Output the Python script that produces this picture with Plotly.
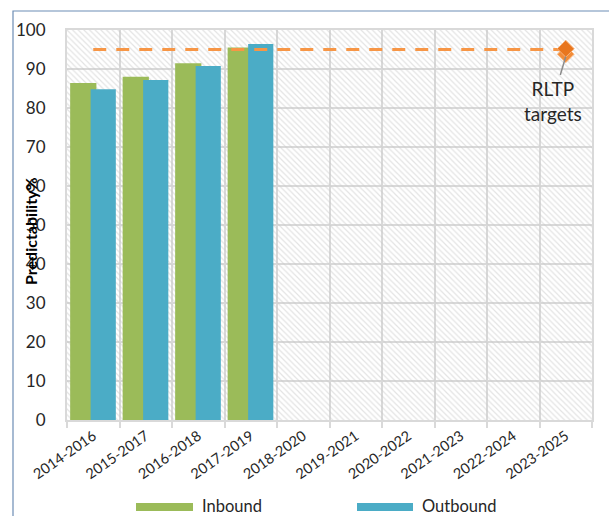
import plotly.graph_objects as go

# Rolling three-year periods
periods = ["2014-2016", "2015-2017", "2016-2018", "2017-2019", "2018-2020",
           "2019-2021", "2020-2022", "2021-2023", "2022-2024", "2023-2025"]

# Predictability (%) by direction; later periods not yet reported
inbound = [86.4, 88.0, 91.5, 95.5]
outbound = [84.8, 87.2, 90.8, 96.4]

# RLTP target level and target markers for the final period
target_level = 95
target_markers = [95.2, 93.8]

GREEN = "#9BBB59"
BLUE = "#4BACC6"
ORANGE = "#F79646"
GRID = "#D9D9D9"
FONT = "Lato"

W, H = 609, 516
L, R, T, B = 67, 17, 30, 96
PW, PH = W - L - R, H - T - B


def px_x(px):
    return (px - L) / PW


def px_y(py):
    return (H - B - py) / PH


fig = go.Figure()

# Hatched plot background spanning every period
fig.add_trace(go.Bar(
    x=[periods[0]], y=[100], base=0, offset=-0.5, width=len(periods),
    marker=dict(color="rgba(0,0,0,0)", line=dict(width=0),
                pattern=dict(shape="\\", fgcolor="#C8C8C8", bgcolor="rgba(0,0,0,0)",
                             size=4, solidity=0.3)),
    hoverinfo="skip", showlegend=False,
))

fig.add_trace(go.Bar(
    x=periods[:len(inbound)], y=inbound, name="Inbound",
    offset=-0.44, width=0.5, marker=dict(color=GREEN, line=dict(width=0)),
    showlegend=False,
))
fig.add_trace(go.Bar(
    x=periods[:len(outbound)], y=outbound, name="Outbound",
    offset=-0.05, width=0.48, marker=dict(color=BLUE, line=dict(width=0)),
    showlegend=False,
))

# Dashed target line
fig.add_trace(go.Scatter(
    x=[periods[0], periods[-1]], y=[target_level, target_level], mode="lines",
    line=dict(color=ORANGE, width=3, dash="13px,10px"),
    hoverinfo="skip", showlegend=False,
))

# Target markers
fig.add_trace(go.Scatter(
    x=[periods[-1]], y=[target_markers[1]], mode="markers",
    marker=dict(symbol="diamond", size=13, color="#F28C38",
                line=dict(color="#FBC08F", width=1)),
    showlegend=False,
))
fig.add_trace(go.Scatter(
    x=[periods[-1]], y=[target_markers[0]], mode="markers",
    marker=dict(symbol="diamond", size=13, color="#E8761E",
                line=dict(color="#F9B27A", width=1)),
    showlegend=False,
))

fig.add_annotation(
    x=periods[-1], y=target_markers[1] - 0.6, xref="x", yref="y",
    text="RLTP<br>targets", showarrow=True, arrowhead=0, arrowwidth=1.5,
    arrowcolor="#8C8C8C", ax=-13, ay=44, standoff=0,
    font=dict(family=FONT, size=19, color="#262626"), align="center",
)

# Y-axis title
fig.add_annotation(
    x=px_x(31), y=px_y(231), xref="paper", yref="paper",
    text="<b>Predictability%</b>", textangle=-90, showarrow=False,
    xanchor="center", yanchor="middle",
    font=dict(family=FONT, size=16, color="#000000"),
)

# Legend drawn beneath the chart
legend_items = [("Inbound", GREEN, 136, 193, 200), ("Outbound", BLUE, 357, 413, 420)]
for label, colour, x0, x1, tx in legend_items:
    fig.add_shape(type="rect", xref="paper", yref="paper",
                  x0=px_x(x0), x1=px_x(x1), y0=px_y(511), y1=px_y(503),
                  fillcolor=colour, line=dict(width=0))
    fig.add_annotation(x=px_x(tx), y=px_y(505.5), xref="paper", yref="paper",
                       text=label, showarrow=False, xanchor="left", yanchor="middle",
                       font=dict(family=FONT, size=16.5, color="#262626"))

# Thin outer frame (left and top edges)
fig.add_shape(type="path", xref="paper", yref="paper",
              path=f"M {px_x(13)} {px_y(520)} L {px_x(13)} {px_y(11)} L {px_x(612)} {px_y(11)}",
              line=dict(color="#6D8DB5", width=1.2))

fig.update_layout(
    width=W, height=H,
    margin=dict(l=L, r=R, t=T, b=B),
    paper_bgcolor="white", plot_bgcolor="white",
    barmode="overlay",
    font=dict(family=FONT, color="#262626"),
    showlegend=False,
)
fig.update_xaxes(
    type="category", categoryorder="array", categoryarray=periods,
    range=[-0.5, len(periods) - 0.5],
    tickson="boundaries", ticks="outside", ticklen=6, tickcolor=GRID, tickwidth=2,
    showgrid=True, gridcolor=GRID, gridwidth=2,
    showline=True, linecolor=GRID, linewidth=2, mirror=True,
    tickangle=-35, tickfont=dict(family=FONT, size=14.5, color="#262626"),
)
fig.update_yaxes(
    range=[0, 100], dtick=10, showgrid=True, gridcolor=GRID, gridwidth=2,
    zeroline=False, showline=True, linecolor=GRID, linewidth=2, mirror=True,
    ticks="", ticklabelstandoff=16,
    tickfont=dict(family=FONT, size=17, color="#262626"),
)

fig.write_html("out.html")
